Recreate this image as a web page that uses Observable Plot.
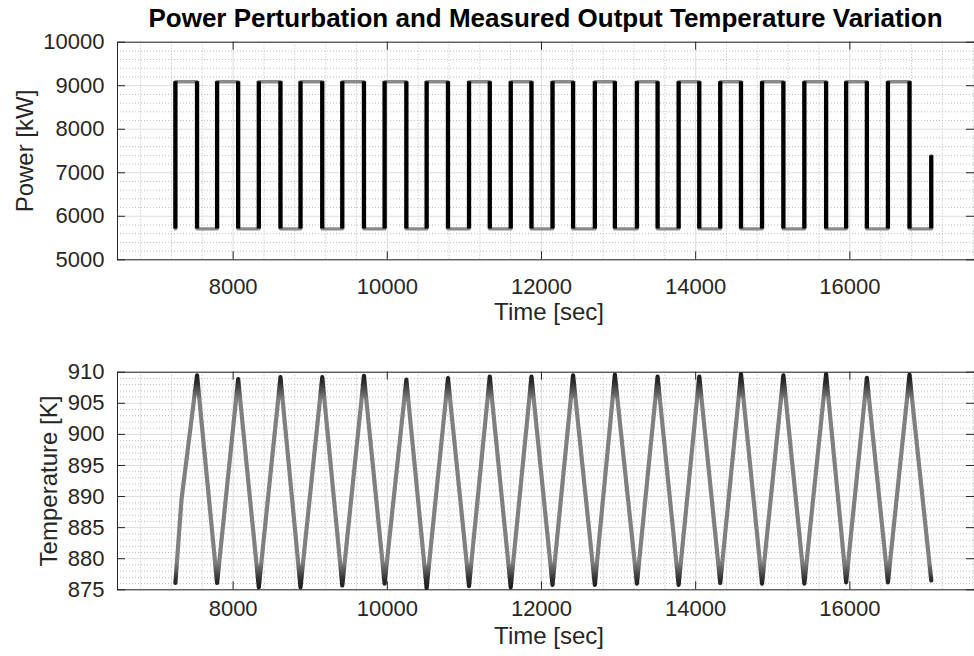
<!DOCTYPE html>
<html>
<head>
<meta charset="utf-8">
<script src="https://cdn.jsdelivr.net/npm/d3@7"></script>
<script src="https://cdn.jsdelivr.net/npm/@observablehq/plot@0.6"></script>
<style>
  body { margin: 0; background: #fff; }
  #wrap { position: relative; width: 974px; height: 656px; overflow: hidden; font-family: "Liberation Sans", Arial, sans-serif; background: #fff; }
  .chart { position: absolute; left: 0; }
  #title { position: absolute; left: 117px; width: 857px; top: 1px; height: 34px; line-height: 34px; text-align: center; font-weight: bold; font-size: 26px; color: #000; white-space: nowrap; }
</style>
</head>
<body>
<svg width="0" height="0" style="position:absolute">
  <defs>
    <linearGradient id="tgrad" x1="0" y1="0" x2="0" y2="1">
      <stop offset="0" stop-color="#1c1c1c"/>
      <stop offset="0.04" stop-color="#2e2e2e"/>
      <stop offset="0.12" stop-color="#808080"/>
      <stop offset="0.88" stop-color="#808080"/>
      <stop offset="0.96" stop-color="#2e2e2e"/>
      <stop offset="1" stop-color="#1c1c1c"/>
    </linearGradient>
  </defs>
</svg>
<div id="wrap">
  <div id="c1" class="chart" style="top:0px"></div>
  <div id="c2" class="chart" style="top:330px"></div>
  <div id="title">Power Perturbation and Measured Output Temperature Variation</div>
</div>
<script>
// ---- data ----
const riseTimes = [7251, 7792, 8333, 8874, 9416, 9965, 10510, 11060, 11601, 12143, 12692, 13238, 13779, 14319, 14861, 15410, 15952, 16494];
const fallTimes = [7532, 8065, 8614, 9156, 9697, 10247, 10787, 11329, 11870, 12410, 12952, 13506, 14047, 14588, 15138, 15692, 16221, 16774];
const powerHigh = 9090;
const powerLow = 5710;
const finalTime = 17056;
const finalPower = 7390;

const troughTemps = [876.1, 876.1, 875.4, 875.4, 875.7, 876.0, 875.3, 875.6, 875.4, 875.8, 875.8, 876.0, 875.8, 876.1, 876.0, 876.0, 876.2, 876.2];
const peakTemps   = [909.5, 908.9, 909.2, 909.2, 909.4, 908.8, 909.05, 909.3, 909.3, 909.5, 909.6, 909.3, 909.3, 909.7, 909.5, 909.7, 909.1, 909.6];
const firstRiseBend = [7330, 889.5];
const finalTemp = 876.5;

const xTicks = [8000, 10000, 12000, 14000, 16000];
const powerTicks = [5000, 6000, 7000, 8000, 9000, 10000];
const tempTicks = [875, 880, 885, 890, 895, 900, 905, 910];
const xDomain = [6500, 17617];

// ---- build tables ----
const powerSteps = [];
riseTimes.forEach((r, i) => {
  powerSteps.push({t: r, p: powerLow}, {t: r, p: powerHigh}, {t: fallTimes[i], p: powerHigh}, {t: fallTimes[i], p: powerLow});
});
powerSteps.push({t: finalTime, p: powerLow}, {t: finalTime, p: finalPower});
const transitions = [
  ...riseTimes.map(t => ({t, top: powerHigh})),
  ...fallTimes.map(t => ({t, top: powerHigh})),
  {t: finalTime, top: finalPower}
];

const tempSeries = [];
riseTimes.forEach((r, i) => {
  tempSeries.push({t: r, T: troughTemps[i]});
  if (i === 0) tempSeries.push({t: firstRiseBend[0], T: firstRiseBend[1]});
  tempSeries.push({t: fallTimes[i], T: peakTemps[i]});
});
tempSeries.push({t: finalTime, T: finalTemp});

const xMinor = d3.range(6800, xDomain[1], 400).filter(v => v % 2000 !== 0);
const fmt = d3.format("d");
const INK = "#262626";

function panel({height, marginTop, marginBottom, yDomain, yTicks, yMinor, dataMarks, ylabel, ylabelDx, xPad, xLabelDy}) {
  const W = 974, ML = 117, MR = 0;
  const ph = height - marginTop - marginBottom;
  const pw = W - ML - MR;
  const tl = 8;
  return Plot.plot({
    width: W, height, marginLeft: ML, marginRight: MR, marginTop, marginBottom,
    style: {fontFamily: "Liberation Sans, Arial, sans-serif", fontSize: "22px", color: INK, background: "white"},
    x: {domain: xDomain},
    y: {domain: yDomain},
    marks: [
      Plot.gridX(xMinor, {stroke: "#bcbcbc", strokeOpacity: 1, strokeDasharray: "1,2"}),
      Plot.gridY(yMinor, {stroke: "#bcbcbc", strokeOpacity: 1, strokeDasharray: "1,2"}),
      Plot.gridX(xTicks, {stroke: "#dddddd", strokeOpacity: 1}),
      Plot.gridY(yTicks, {stroke: "#dddddd", strokeOpacity: 1}),
      ...dataMarks,
      Plot.ruleX(xTicks, {x: d => d, insetTop: ph - tl, stroke: INK}),
      Plot.ruleX(xTicks, {x: d => d, insetBottom: ph - tl, stroke: INK}),
      Plot.ruleY(yTicks, {y: d => d, insetRight: pw - tl, stroke: INK}),
      Plot.ruleY(yTicks, {y: d => d, insetLeft: pw - tl, stroke: INK}),
      Plot.frame({stroke: INK}),
      Plot.axisX(xTicks, {anchor: "bottom", tickSize: 0, tickPadding: xPad, label: null, tickFormat: fmt, fontSize: 22}),
      Plot.axisY(yTicks, {anchor: "left", tickSize: 0, tickPadding: 13, label: null, tickFormat: fmt, fontSize: 22}),
      Plot.text(["Time [sec]"], {text: d => d, frameAnchor: "bottom", dy: xLabelDy, dx: 3, lineAnchor: "top", textAnchor: "middle", fontSize: 24, fill: INK}),
      Plot.text([ylabel], {text: d => d, frameAnchor: "left", dx: ylabelDx, rotate: -90, textAnchor: "middle", lineAnchor: "middle", fontSize: 24, fill: INK})
    ]
  });
}

const c1 = panel({
  height: 330, marginTop: 41.7, marginBottom: 70.7,
  yDomain: [5000, 10000], yTicks: powerTicks,
  yMinor: d3.range(5200, 10000, 200).filter(v => v % 1000 !== 0),
  dataMarks: [
    Plot.line(powerSteps, {x: "t", y: "p", stroke: "#8a8a8a", strokeWidth: 3.4}),
    Plot.ruleX(transitions, {x: "t", y1: () => powerLow, y2: "top", stroke: "black", strokeWidth: 4.3})
  ],
  ylabel: "Power [kW]", ylabelDx: -92, xPad: 19, xLabelDy: 43
});
document.getElementById("c1").appendChild(c1);

const c2 = panel({
  height: 326, marginTop: 41.7, marginBottom: 66.7,
  yDomain: [875, 910], yTicks: tempTicks,
  yMinor: d3.range(876, 910, 1).filter(v => v % 5 !== 0),
  dataMarks: [
    Plot.line(tempSeries, {x: "t", y: "T", stroke: "url(#tgrad)", strokeWidth: 4.2})
  ],
  ylabel: "Temperature [K]", ylabelDx: -68, xPad: 11, xLabelDy: 37
});
document.getElementById("c2").appendChild(c2);
</script>
</body>
</html>
